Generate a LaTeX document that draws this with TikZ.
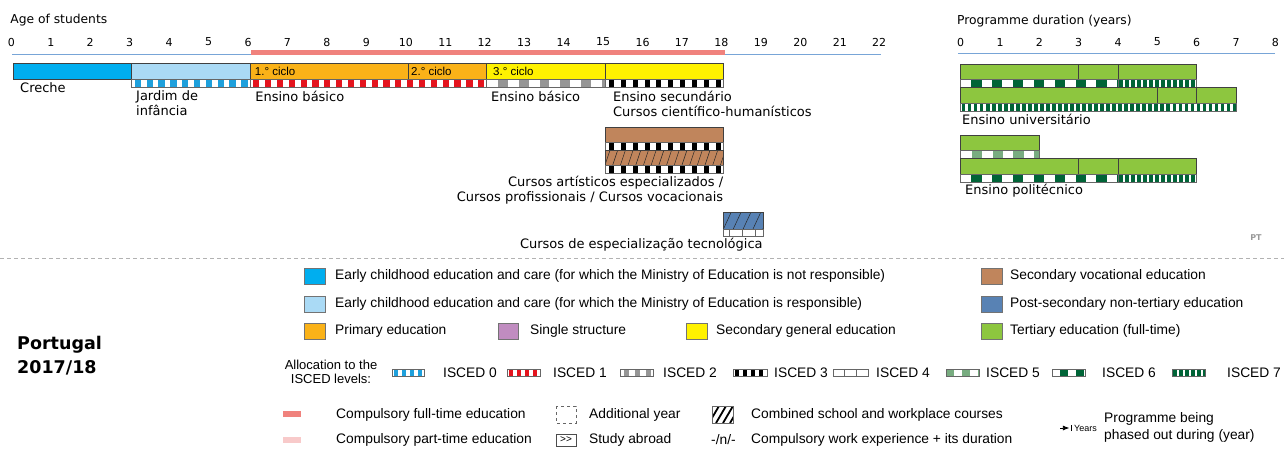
\documentclass[tikz,border=0pt]{standalone}
\usepackage{fontspec}
\setmainfont{DejaVu Sans}
\newfontfamily\legfont{Liberation Sans}
\usetikzlibrary{arrows.meta}

\definecolor{ecec}{RGB}{0,174,239}
\definecolor{ececmin}{RGB}{170,218,245}
\definecolor{primary}{RGB}{250,178,24}
\definecolor{secgen}{RGB}{255,242,0}
\definecolor{secvoc}{RGB}{192,133,92}
\definecolor{postsec}{RGB}{88,130,180}
\definecolor{tertiary}{RGB}{141,198,63}
\definecolor{single}{RGB}{192,140,192}
\definecolor{iscedzero}{RGB}{30,160,220}
\definecolor{iscedone}{RGB}{228,20,30}
\definecolor{iscedtwo}{RGB}{150,150,150}
\definecolor{iscedfive}{RGB}{120,172,128}
\definecolor{iscedsix}{RGB}{0,100,55}
\definecolor{compfull}{RGB}{240,130,125}
\definecolor{comppart}{RGB}{248,202,202}
\definecolor{axisblue}{RGB}{120,165,215}

\tikzset{>=Latex}
\tikzset{
  bar/.style={draw=black!75, line width=0.6pt},
  stripline/.style={draw=black!60, line width=0.5pt},
  axisline/.style={axisblue, line width=0.9pt},
  axistitle/.style={font=\fontsize{12.3}{14}\selectfont, anchor=west, inner sep=0pt},
  ticklabel/.style={font=\fontsize{11}{13}\selectfont, inner sep=0pt},
  barlabel/.style={font=\fontsize{13}{15}\selectfont, anchor=west, inner sep=0pt, align=left},
  cyclelabel/.style={font=\legfont\fontsize{11.5}{13}\selectfont, anchor=west, inner sep=0pt},
  legbox/.style={draw=black!55, line width=0.5pt},
  legtext/.style={font=\legfont\fontsize{13.8}{15}\selectfont, anchor=west, inner sep=0pt},
  legsmall/.style={font=\legfont\fontsize{13}{14}\selectfont, inner sep=0pt, align=center},
}

% strip of ISCED blocks: x1, x2, ytop, height, colour, period, block, offset
\newcommand{\iscedstrip}[8]{%
  \begin{scope}
    \clip (#1,#3) rectangle (#2,#3+#4);
    \fill[white] (#1,#3) rectangle (#2,#3+#4);
    \foreach \k in {0,...,50}
      \fill[#5] (#1+#8+\k*#6,#3) rectangle ++(#7,#4);
  \end{scope}
  \draw[stripline] (#1,#3) rectangle (#2,#3+#4);
}
% hatched bar: x1, x2, ytop, ybottom, colour, period, slant
\newcommand{\hatchbar}[7]{%
  \fill[#5] (#1,#3) rectangle (#2,#4);
  \begin{scope}
    \clip (#1,#3) rectangle (#2,#4);
    \foreach \k in {-2,...,30}
      \draw[black!85, line width=0.5pt] (#1+\k*#6,#4) -- ++(#7,#3-#4);
  \end{scope}
  \draw[bar] (#1,#3) rectangle (#2,#4);
}

\begin{document}
\begin{tikzpicture}[x=1pt, y=-1pt]
\useasboundingbox (0,0) rectangle (1284,448);

% ---- age of students
\begin{scope}[xshift=13.3pt, x=39.45pt]
  \node[axistitle] (agetitle) at (-0.08,20) {Age of students};
  \foreach \a in {0,...,22}
    \node[ticklabel] (age\a) at (\a-0.05,42) {\a};
  \draw[axisline] (-0.03,54.5) -- (22,54.5);
  \fill[compfull] (6.03,50) rectangle (18.04,55);

  \draw[bar, fill=ecec] (0,63) rectangle (3,79);
  \draw[bar, fill=ececmin] (3,63) rectangle (6,79);
  \iscedstrip{3}{6}{79}{8}{iscedzero}{0.3}{0.16}{0.08}
  \draw[bar, fill=primary] (6,63) rectangle (10,79);
  \draw[bar, fill=primary] (10,63) rectangle (12,79);
  \iscedstrip{6}{12}{79}{8}{iscedone}{0.3}{0.16}{0.08}
  \draw[bar, fill=secgen] (12,63) rectangle (15,79);
  \iscedstrip{12}{15}{79}{8}{iscedtwo}{0.525}{0.25}{0.29}
  \draw[bar, fill=secgen] (15,63) rectangle (18,79);
  \iscedstrip{15}{18}{79}{8}{black}{0.3}{0.13}{0.1}

  \node[cyclelabel] (ciclo1) at (6.12,71) {1.° ciclo};
  \node[cyclelabel] (ciclo2) at (10.08,71) {2.° ciclo};
  \node[cyclelabel] (ciclo3) at (12.16,71) {3.° ciclo};

  \node[barlabel] (creche) at (0.17,88) {Creche};
  \node[barlabel] (jardim) at (3.11,103.5) {Jardim de\\infância};
  \node[barlabel] (basico) at (6.13,96) {Ensino básico};
  \node[barlabel] (basicob) at (12.11,96) {Ensino básico};
  \node[barlabel] (secund) at (15.2,103.5) {Ensino secundário\\Cursos científico-humanísticos};

  % vocational
  \draw[bar, fill=secvoc] (15,127) rectangle (18,142);
  \iscedstrip{15}{18}{142}{8}{black}{0.3}{0.13}{0.1}
  \hatchbar{15}{18}{150}{165}{secvoc}{0.195}{0.127}
  \iscedstrip{15}{18}{165}{8}{black}{0.3}{0.13}{0.1}
  \node[barlabel, anchor=east, align=right] (vocac) at (18,190)
    {Cursos artísticos especializados /\\Cursos profissionais / Cursos vocacionais};

  % post-secondary
  \hatchbar{18}{19}{212}{229}{postsec}{0.25}{0.2}
  \fill[white] (18,229) rectangle (19,236);
  \foreach \v in {18.14,18.47,18.8}
    \draw[stripline] (\v,229) -- (\v,236);
  \draw[stripline] (18,229) rectangle (19,236);
  \node[barlabel, anchor=east] (cet) at (19,245) {Cursos de especialização tecnológica};
\end{scope}

% ---- programme duration
\begin{scope}[xshift=960.7pt, x=39.33pt]
  \node[axistitle] (durtitle) at (-0.094,21) {Programme duration (years)};
  \foreach \d in {0,...,8}
    \node[ticklabel] (dur\d) at (\d,42) {\d};
  \draw[axisline] (-0.07,53.5) -- (8,53.5);

  % universitario
  \draw[bar, fill=tertiary] (0,64) rectangle (3,79);
  \draw[bar, fill=tertiary] (3,64) rectangle (4,79);
  \draw[bar, fill=tertiary] (4,64) rectangle (6,79);
  \iscedstrip{0}{4}{79}{8}{iscedsix}{0.53}{0.26}{0.27}
  \iscedstrip{4}{6}{79}{8}{iscedsix}{0.153}{0.09}{0.03}
  \draw[bar, fill=tertiary] (0,87) rectangle (5,103);
  \draw[bar, fill=tertiary] (5,87) rectangle (6,103);
  \draw[bar, fill=tertiary] (6,87) rectangle (7,103);
  \iscedstrip{0}{7}{103}{8}{iscedsix}{0.153}{0.09}{0.03}
  \node[barlabel] (univ) at (0.03,119) {Ensino universitário};

  % politecnico
  \draw[bar, fill=tertiary] (0,135) rectangle (2,150);
  \iscedstrip{0}{2}{150}{8}{iscedfive}{0.53}{0.26}{0.28}
  \draw[bar, fill=tertiary] (0,158) rectangle (3,174);
  \draw[bar, fill=tertiary] (3,158) rectangle (4,174);
  \draw[bar, fill=tertiary] (4,158) rectangle (6,174);
  \iscedstrip{0}{4}{174}{8}{iscedsix}{0.53}{0.26}{0.27}
  \iscedstrip{4}{6}{174}{8}{iscedsix}{0.153}{0.09}{0.03}
  \node[barlabel] (poli) at (0.11,191) {Ensino politécnico};
\end{scope}

\node[font=\bfseries\fontsize{8}{9}\selectfont, text=black!40, inner sep=0pt] (pt) at (1256,238) {PT};
\draw[black!30, dash pattern=on 4pt off 3pt] (0,258) -- (1284,258);

% ---- legend
\node[font=\bfseries\fontsize{17.5}{18}\selectfont, anchor=west, inner sep=0pt] (country) at (17,345) {Portugal};
\node[font=\bfseries\fontsize{17.5}{18}\selectfont, anchor=west, inner sep=0pt] (year) at (17,368) {2017/18};

\draw[legbox, fill=ecec] (304,268) rectangle (325,284);
\node[legtext] (legecec) at (335,276) {Early childhood education and care (for which the Ministry of Education is not responsible)};
\draw[legbox, fill=ececmin] (304,296) rectangle (325,312);
\node[legtext] (legececmin) at (335,304) {Early childhood education and care (for which the Ministry of Education is responsible)};
\draw[legbox, fill=primary] (304,323) rectangle (325,339);
\node[legtext] (legprim) at (335,331) {Primary education};
\draw[legbox, fill=single] (498,323) rectangle (518,339);
\node[legtext] (legsingle) at (530,331) {Single structure};
\draw[legbox, fill=secgen] (686,323) rectangle (707,339);
\node[legtext] (legsecgen) at (716,331) {Secondary general education};

\draw[legbox, fill=secvoc] (981,268) rectangle (1002,284);
\node[legtext] (legsecvoc) at (1010,276) {Secondary vocational education};
\draw[legbox, fill=postsec] (981,296) rectangle (1002,312);
\node[legtext] (legpostsec) at (1010,304) {Post-secondary non-tertiary education};
\draw[legbox, fill=tertiary] (981,323) rectangle (1002,339);
\node[legtext] (legtert) at (1010,331) {Tertiary education (full-time)};

% ISCED levels
\node[legsmall] (alloc) at (331,372) {Allocation to the\\ISCED levels:};
\iscedstrip{392}{424}{369}{7}{iscedzero}{8}{4}{2}
\node[legtext] (leg0) at (443,373) {ISCED 0};
\iscedstrip{507}{540}{369}{7}{iscedone}{8}{4}{2}
\node[legtext] (leg1) at (553,373) {ISCED 1};
\iscedstrip{620}{653}{369}{7}{iscedtwo}{11}{5}{4}
\node[legtext] (leg2) at (663,373) {ISCED 2};
\iscedstrip{733}{767}{369}{7}{black}{8}{4}{2}
\node[legtext] (leg3) at (774,373) {ISCED 3};
\fill[white] (833,369) rectangle (868,376);
\foreach \v in {844.7,856.3}
  \draw[stripline] (\v,369) -- (\v,376);
\draw[stripline] (833,369) rectangle (868,376);
\node[legtext] (leg4) at (876,373) {ISCED 4};
\iscedstrip{946}{979}{369}{7}{iscedfive}{16}{8}{0}
\node[legtext] (leg5) at (986,373) {ISCED 5};
\iscedstrip{1052}{1085}{369}{7}{iscedsix}{16}{8}{8}
\node[legtext] (leg6) at (1102,373) {ISCED 6};
\iscedstrip{1172}{1205}{369}{7}{iscedsix}{6}{3.5}{1}
\node[legtext] (leg7) at (1227,373) {ISCED 7};

% other symbols
\fill[compfull] (283,411) rectangle (301,417);
\node[legtext] (legfull) at (336,415) {Compulsory full-time education};
\fill[comppart] (283,437) rectangle (301,443);
\node[legtext] (legpart) at (336,440) {Compulsory part-time education};
\draw[black!60, dashed, line width=0.5pt] (556,406) rectangle (576,423);
\node[legtext] (legadd) at (589,415) {Additional year};
\node[draw=black!70, line width=0.5pt, minimum width=20pt, minimum height=12pt, inner sep=0pt,
  font=\legfont\fontsize{10}{11}\selectfont] (abroadbox) at (566,440) {>>};
\node[legtext] (legabroad) at (589,440) {Study abroad};
\begin{scope}
  \clip (712,406) rectangle (733,423);
  \foreach \k in {-1,...,3}
    \draw[black, line width=1.8pt] (709+\k*7,423) -- ++(10,-17);
\end{scope}
\draw[black!60, line width=0.5pt] (712,406) rectangle (733,423);
\node[legtext] (legcomb) at (751,415) {Combined school and workplace courses};
\node[legtext] (legnn) at (711,440) {-/n/-};
\node[legtext] (legwork) at (751,440) {Compulsory work experience + its duration};
\node[font=\legfont\fontsize{9}{10}\selectfont, anchor=west, inner sep=0pt] (years) at (1074,428) {Years};
\draw[->, line width=0.8pt] ([xshift=-14pt]years.west) -- ([xshift=-4.5pt]years.west);
\draw[line width=0.8pt] ([xshift=-3pt,yshift=-3pt]years.west) -- ([xshift=-3pt,yshift=3pt]years.west);
\node[legtext, align=left, font=\legfont\fontsize{13.8}{17}\selectfont] (legphase) at (1104,427)
  {Programme being\\phased out during (year)};
\end{tikzpicture}
\end{document}
